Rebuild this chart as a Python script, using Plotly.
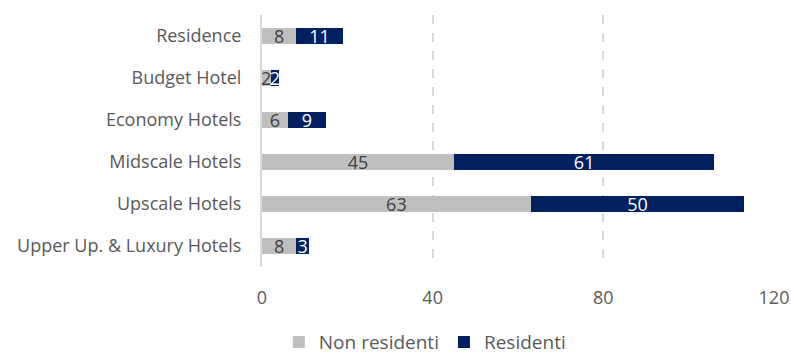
import plotly.graph_objects as go

categories = ["Upper Up. & Luxury Hotels", "Upscale Hotels", "Midscale Hotels",
              "Economy Hotels", "Budget Hotel", "Residence"]
non_residenti = [8, 63, 45, 6, 2, 8]
residenti = [3, 50, 61, 9, 2, 11]
x_ticks = [0, 40, 80, 120]

FONT = "Open Sans"
fig = go.Figure()
fig.add_trace(go.Bar(
    y=categories, x=non_residenti, orientation="h", name="Non residenti",
    marker=dict(color="#bfbfbf", line=dict(width=0)),
    text=[str(v) for v in non_residenti], textposition="inside", textangle=0,
    insidetextanchor="middle", constraintext="none",
    textfont=dict(family=FONT, size=18, color="#404040"),
    hoverinfo="skip",
))
fig.add_trace(go.Bar(
    y=categories, x=residenti, orientation="h", name="Residenti",
    marker=dict(color="#002060", line=dict(width=0)),
    text=[str(v) for v in residenti], textposition="inside", textangle=0,
    insidetextanchor="middle", constraintext="none",
    textfont=dict(family=FONT, size=18, color="#ffffff"),
    hoverinfo="skip",
))
fig.update_layout(
    width=791, height=354,
    margin=dict(l=262, r=17, t=15, b=87, autoexpand=False),
    barmode="stack", bargap=0.6,
    plot_bgcolor="white", paper_bgcolor="white",
    font=dict(family=FONT, size=18, color="#595959"),
    showlegend=True,
    legend=dict(orientation="h", x=0.318, xanchor="center", y=-0.298, yanchor="middle",
                font=dict(family=FONT, size=19, color="#595959"),
                traceorder="normal", itemwidth=30, tracegroupgap=0),
    uniformtext=dict(mode=False),
)
fig.update_xaxes(range=[0, 120], tickvals=x_ticks, ticktext=[str(t) for t in x_ticks],
                 showgrid=True, gridcolor="#d9d9d9", griddash="dash", gridwidth=1.5,
                 zeroline=False, showline=False, ticks="", ticklabelstandoff=18,
                 automargin=False,
                 tickfont=dict(family=FONT, size=18, color="#595959"))
fig.update_yaxes(showgrid=False, zeroline=False, showline=True, linecolor="#d9d9d9",
                 linewidth=2, ticks="", ticklabelstandoff=15, automargin=False,
                 tickfont=dict(family=FONT, size=18, color="#595959"))
fig.write_html("out.html")
